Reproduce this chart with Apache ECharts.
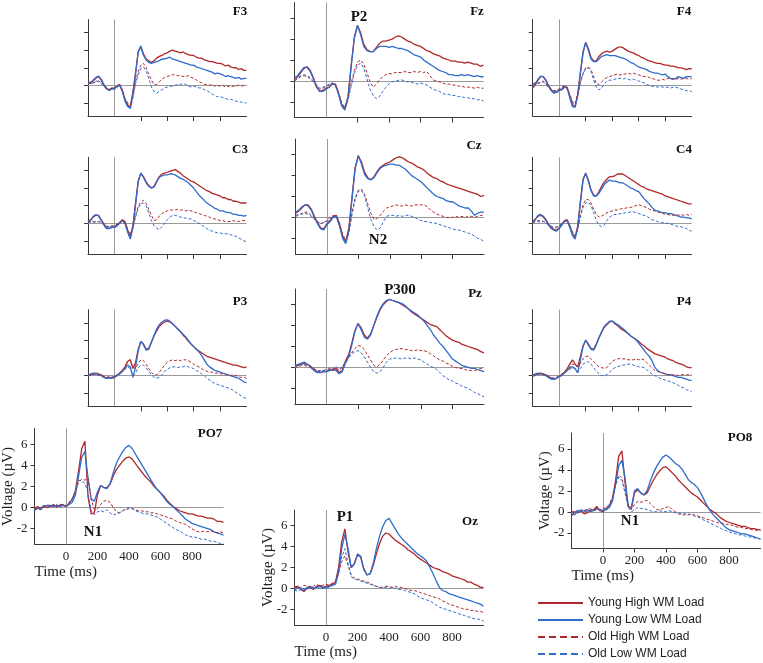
<!DOCTYPE html>
<html><head><meta charset="utf-8">
<script src="https://cdn.jsdelivr.net/npm/echarts@6/dist/echarts.min.js"></script>
<style>html,body{margin:0;padding:0;background:#fff}#c{width:763px;height:663px}</style>
</head><body><div id="c"></div>
<script>
const timeMs = [-200,-180,-160,-140,-120,-100,-80,-60,-40,-20,
0,20,40,60,80,100,120,140,160,180,
200,220,240,260,280,300,320,340,360,380,
400,420,440,460,480,500,520,540,560,580,
600,620,640,660,680,700,720,740,760,780,
800,820,840,860,880,900,920,940,960,980,1000];
const seriesNames = ['Young High WM Load','Young Low WM Load','Old High WM Load','Old Low WM Load'];
const yTickValues = [-2,0,2,4,6];
const xTickValues = [200,400,600,800];
const xLabelValues = [0,200,400,600,800];

// F3
const f3YH=[0.3,0.2,0.5,0.8,1.0,0.6,0.0,-0.4,-0.5,-0.3,-0.4,-0.1,0.1,-0.6,-1.6,-2.2,-2.5,-0.8,1.4,3.8,4.4,3.6,3.0,2.8,2.6,2.8,3.1,3.3,3.4,3.6,3.7,3.9,4.0,3.9,3.8,3.7,3.8,3.6,3.5,3.4,3.4,3.2,3.1,3.1,2.9,2.8,2.7,2.7,2.6,2.5,2.5,2.4,2.2,2.3,2.1,2.0,2.0,1.8,1.9,1.7,1.7];
const f3YL=[0.4,0.3,0.6,0.9,1.05,0.7,0.1,-0.3,-0.6,-0.4,-0.3,-0.2,0.0,-0.7,-1.8,-2.4,-2.6,-0.9,1.3,3.8,4.5,3.4,2.9,2.6,2.5,2.6,2.7,2.8,3.0,3.0,3.1,3.2,3.0,2.9,2.8,2.7,2.6,2.5,2.4,2.3,2.3,2.1,2.0,1.9,1.8,1.7,1.6,1.5,1.3,1.4,1.3,1.2,1.0,1.1,1.0,0.9,0.8,0.9,0.7,0.8,0.8];
const f3OH=[0.4,0.3,0.3,0.4,0.5,0.3,0.0,-0.3,-0.5,-0.4,-0.3,0.0,0.1,-0.5,-1.5,-2.0,-2.3,-1.2,0.4,1.6,2.3,2.5,2.0,1.3,0.6,0.1,0.1,0.4,0.7,0.9,1.0,1.1,1.2,1.2,1.1,1.1,1.0,1.0,1.1,0.9,0.8,0.6,0.4,0.3,0.1,0.1,0.0,0.1,-0.1,0.0,-0.1,0.0,-0.2,-0.1,-0.2,-0.1,-0.1,0.0,-0.1,0.0,0.0];
const f3OL=[0.2,0.4,0.2,0.5,0.4,0.2,-0.1,-0.4,-0.6,-0.5,-0.4,-0.1,0.0,-0.6,-1.7,-2.4,-2.7,-1.5,0.2,1.2,1.9,2.1,1.6,0.8,-0.2,-0.7,-0.9,-0.7,-0.5,-0.3,-0.2,-0.1,-0.1,0.0,0.1,0.1,0.2,0.1,-0.1,-0.2,-0.1,-0.2,-0.3,-0.3,-0.5,-0.6,-0.8,-1.0,-1.2,-1.3,-1.3,-1.4,-1.5,-1.6,-1.6,-1.7,-1.8,-1.9,-1.9,-2.0,-2.0];
// Fz
const fzYH=[0.2,0.4,0.8,1.2,1.35,1.0,0.3,-0.6,-1.0,-0.9,-0.7,-0.6,-0.3,-0.3,-1.2,-2.3,-2.7,-1.5,1.5,4.2,5.3,4.6,3.5,3.0,2.8,2.8,3.2,3.6,3.8,3.8,3.9,4.0,4.2,4.3,4.2,4.0,3.8,3.7,3.5,3.4,3.3,3.1,2.9,2.8,2.6,2.5,2.4,2.2,2.1,2.0,1.9,1.9,1.8,1.8,1.7,1.8,1.7,1.6,1.6,1.4,1.5];
const fzYL=[0.3,0.5,0.9,1.3,1.3,0.9,0.2,-0.5,-1.0,-1.0,-0.8,-0.6,-0.2,-0.4,-1.3,-2.4,-2.8,-1.6,1.4,4.1,5.3,4.4,3.3,2.9,2.8,2.8,3.1,3.3,3.3,3.3,3.2,3.3,3.2,3.1,3.1,3.0,2.9,2.7,2.5,2.4,2.3,2.0,1.8,1.6,1.4,1.2,1.0,0.9,0.8,0.6,0.6,0.5,0.5,0.6,0.5,0.6,0.5,0.4,0.5,0.4,0.4];
const fzOH=[0.0,0.2,0.4,0.5,0.4,0.2,-0.1,-0.5,-0.8,-0.7,-0.5,-0.4,-0.3,-0.4,-1.1,-2.1,-2.5,-1.6,-0.2,1.0,1.8,2.0,1.6,0.8,-0.1,-0.6,-0.3,0.1,0.4,0.6,0.7,0.7,0.8,0.8,0.8,0.9,0.8,0.8,0.9,0.8,0.9,0.8,0.9,0.5,0.1,0.0,-0.1,-0.2,-0.3,-0.3,-0.4,-0.4,-0.5,-0.5,-0.6,-0.6,-0.6,-0.7,-0.6,-0.7,-0.7];
const fzOL=[0.1,0.3,0.5,0.6,0.5,0.3,0.0,-0.4,-0.7,-0.6,-0.5,-0.3,-0.2,-0.5,-1.2,-2.2,-2.6,-1.8,-0.5,0.7,1.5,1.7,1.2,0.2,-0.8,-1.4,-1.7,-1.5,-1.0,-0.6,-0.3,-0.1,0.0,0.05,0.1,0.0,-0.1,-0.1,-0.2,-0.3,-0.2,-0.3,-0.4,-0.6,-0.8,-0.9,-1.0,-1.2,-1.3,-1.3,-1.4,-1.4,-1.5,-1.5,-1.6,-1.6,-1.7,-1.7,-1.8,-1.8,-1.9];
// F4
const f4YH=[-0.3,0.1,0.6,1.0,1.0,0.6,0.0,-0.5,-0.8,-0.8,-0.5,-0.5,-0.2,-0.2,-1.2,-2.2,-2.4,-1.0,1.5,3.8,4.9,4.2,3.2,2.8,2.8,3.3,3.6,3.8,3.9,3.8,3.9,4.1,4.3,4.4,4.3,4.1,3.9,3.8,3.7,3.5,3.4,3.2,3.1,2.9,2.8,2.7,2.6,2.5,2.5,2.4,2.3,2.3,2.2,2.2,2.1,2.0,2.0,1.9,1.8,1.9,1.9];
const f4YL=[-0.2,0.2,0.7,1.05,1.0,0.5,-0.1,-0.6,-0.9,-0.7,-0.6,-0.4,-0.1,-0.3,-1.4,-2.4,-2.5,-1.1,1.4,3.7,4.9,4.0,3.0,2.7,2.7,3.0,3.3,3.4,3.5,3.4,3.4,3.4,3.3,3.2,3.1,3.0,2.8,2.6,2.5,2.3,2.1,2.0,1.9,1.8,1.6,1.5,1.4,1.4,1.3,1.2,1.3,1.0,0.8,0.7,0.8,1.0,0.9,0.8,1.0,1.0,1.0];
const f4OH=[0.2,0.3,0.2,0.4,0.5,0.2,-0.2,-0.4,-0.6,-0.5,-0.4,-0.2,0.0,-0.3,-1.0,-1.8,-2.1,-1.0,0.4,1.4,2.0,2.1,1.8,1.0,0.2,0.1,0.4,0.7,0.9,1.0,1.1,1.2,1.3,1.2,1.3,1.3,1.4,1.3,1.4,1.3,1.2,1.1,1.0,1.0,0.9,0.8,0.7,0.6,0.6,0.7,0.6,0.8,0.7,0.8,0.7,0.8,0.7,0.8,0.8,0.7,0.8];
const f4OL=[0.1,0.2,0.3,0.3,0.4,0.1,-0.3,-0.5,-0.7,-0.6,-0.5,-0.3,-0.1,-0.4,-1.2,-2.0,-2.3,-1.2,0.3,1.3,1.9,2.0,1.6,0.6,-0.2,-0.5,-0.3,0.2,0.5,0.6,0.6,0.7,0.8,0.8,0.7,0.8,0.7,0.6,0.7,0.6,0.5,0.4,0.3,0.1,0.0,-0.1,-0.1,-0.2,-0.1,-0.2,-0.2,-0.2,-0.3,-0.2,-0.2,-0.3,-0.4,-0.5,-0.6,-0.6,-0.7];
// C3
const c3YH=[0.2,0.4,0.7,0.9,0.9,0.4,-0.1,-0.5,-0.6,-0.5,-0.4,-0.2,0.1,0.4,0.2,-0.8,-1.5,-0.3,2.3,4.8,5.7,5.3,4.7,4.3,4.0,4.2,4.8,5.3,5.6,5.7,5.8,5.9,6.0,6.1,5.9,5.7,5.4,5.2,5.0,4.8,4.7,4.5,4.3,4.1,3.9,3.7,3.6,3.4,3.3,3.2,3.1,2.9,2.9,2.7,2.7,2.5,2.5,2.4,2.3,2.3,2.3];
const c3YL=[0.1,0.3,0.8,1.0,0.8,0.3,-0.2,-0.6,-0.6,-0.4,-0.5,-0.3,0.0,0.3,0.0,-1.0,-1.8,-0.5,2.1,4.7,5.7,5.2,4.6,4.2,4.0,4.1,4.7,5.2,5.4,5.5,5.5,5.6,5.6,5.5,5.3,5.1,5.0,4.8,4.6,4.3,4.0,3.6,3.2,2.9,2.6,2.3,2.1,1.9,1.7,1.6,1.4,1.4,1.3,1.2,1.2,1.0,1.0,0.9,0.9,0.8,0.9];
const c3OH=[0.2,0.1,0.1,0.2,0.2,0.1,0.0,-0.3,-0.4,-0.3,-0.3,-0.1,0.1,0.3,0.1,-0.7,-1.3,-0.5,0.9,1.9,2.4,2.6,2.3,1.6,0.9,0.3,0.4,0.8,1.1,1.3,1.4,1.5,1.5,1.5,1.6,1.5,1.5,1.4,1.5,1.4,1.3,1.2,1.1,1.0,0.9,0.8,0.7,0.5,0.5,0.4,0.3,0.3,0.2,0.2,0.2,0.3,0.2,0.2,0.3,0.3,0.3];
const c3OL=[0.0,0.2,0.2,0.1,0.2,0.0,-0.1,-0.4,-0.5,-0.3,-0.4,-0.2,0.0,0.2,-0.1,-0.9,-1.7,-0.6,0.7,1.7,2.2,2.3,2.0,1.2,0.3,-0.3,-0.6,-0.7,-0.4,0.0,0.4,0.7,0.9,0.9,0.8,0.7,0.6,0.6,0.5,0.5,0.3,0.2,0.0,-0.2,-0.4,-0.6,-0.8,-0.9,-1.0,-1.1,-1.1,-1.2,-1.2,-1.2,-1.3,-1.4,-1.5,-1.7,-1.8,-2.0,-2.1];
// Cz
const czYH=[0.4,0.6,0.9,1.2,1.2,0.8,0.1,-0.5,-1.0,-1.1,-0.6,-0.3,0.1,0.2,-0.6,-1.8,-2.3,-1.0,2.0,4.8,5.9,5.3,4.3,3.8,3.6,3.9,4.4,4.8,5.0,5.2,5.3,5.5,5.7,5.8,5.7,5.5,5.3,5.2,5.0,4.8,4.7,4.5,4.2,4.0,3.8,3.7,3.5,3.4,3.2,3.1,3.0,2.9,2.8,2.7,2.6,2.5,2.4,2.3,2.2,2.0,2.1];
const czYL=[0.5,0.7,1.0,1.2,1.1,0.7,0.0,-0.6,-1.1,-1.2,-0.7,-0.4,0.0,0.1,-0.8,-2.0,-2.5,-1.2,1.8,4.7,5.9,5.1,4.1,3.7,3.6,3.8,4.3,4.7,4.9,5.0,5.1,5.1,5.0,5.0,4.8,4.6,4.3,4.0,3.8,3.6,3.4,3.1,2.8,2.5,2.2,2.0,1.9,1.8,1.6,1.5,1.5,1.3,1.1,1.0,0.9,0.9,0.6,0.2,0.4,0.5,0.5];
const czOH=[0.1,0.2,0.4,0.5,0.5,0.2,-0.1,-0.4,-0.6,-0.5,-0.3,0.0,0.2,0.1,-0.6,-1.6,-2.2,-1.3,0.5,1.9,2.6,2.7,2.2,1.3,0.4,-0.2,-0.1,0.2,0.6,0.9,1.0,1.1,1.2,1.1,1.1,1.2,1.1,1.1,1.2,1.2,1.2,1.2,1.0,0.7,0.5,0.3,0.2,0.1,0.0,0.0,0.0,0.1,0.0,0.1,0.0,0.1,0.1,0.0,0.1,0.2,0.2];
const czOL=[0.2,0.3,0.3,0.4,0.3,0.1,-0.2,-0.4,-0.6,-0.5,-0.4,-0.1,0.1,0.0,-0.8,-1.8,-2.4,-1.5,0.3,1.7,2.5,2.6,2.0,0.9,-0.2,-0.9,-1.2,-1.0,-0.4,0.1,0.2,0.2,0.1,0.2,0.1,0.2,0.2,0.1,0.0,-0.2,-0.3,-0.4,-0.4,-0.5,-0.5,-0.6,-0.7,-0.8,-0.9,-1.0,-1.1,-1.2,-1.2,-1.3,-1.4,-1.5,-1.6,-1.8,-2.0,-2.1,-2.3];
// C4
const c4YH=[0.2,0.5,0.8,0.9,0.8,0.4,-0.1,-0.5,-0.7,-0.8,-0.5,-0.1,0.3,0.4,-0.3,-1.2,-1.6,-0.3,2.5,5.0,5.7,4.9,3.8,3.2,3.1,3.6,4.2,4.7,5.0,5.3,5.3,5.4,5.6,5.6,5.6,5.4,5.2,5.0,4.8,4.6,4.4,4.2,4.1,3.9,3.8,3.7,3.6,3.5,3.4,3.3,3.1,3.0,2.9,2.8,2.7,2.6,2.5,2.4,2.3,2.2,2.2];
const c4YL=[0.1,0.4,0.9,1.0,0.7,0.3,-0.2,-0.6,-0.8,-0.9,-0.6,-0.2,0.2,0.3,-0.5,-1.4,-1.8,-0.5,2.3,4.9,5.7,4.8,3.7,3.1,3.1,3.4,3.9,4.4,4.7,4.9,4.8,4.8,4.7,4.6,4.6,4.4,4.2,4.0,3.9,3.7,3.6,3.2,2.8,2.5,2.2,1.8,1.5,1.4,1.3,1.2,1.2,1.1,1.1,1.0,0.9,0.8,0.7,0.7,0.6,0.6,0.5];
const c4OH=[0.0,0.2,0.3,0.3,0.2,0.1,-0.1,-0.3,-0.5,-0.5,-0.3,0.0,0.2,0.3,-0.2,-1.0,-1.4,-0.6,0.9,2.1,2.7,2.7,2.3,1.6,1.0,0.7,0.8,1.0,1.2,1.3,1.4,1.5,1.5,1.6,1.7,1.7,1.8,1.8,1.9,2.0,2.1,2.0,1.9,1.8,1.6,1.5,1.4,1.3,1.2,1.1,1.0,1.0,0.9,0.9,1.0,0.9,1.0,0.9,1.0,0.9,1.0];
const c4OL=[0.3,0.1,0.2,0.1,0.2,0.0,-0.2,-0.4,-0.5,-0.4,-0.3,0.0,0.2,0.2,-0.3,-1.1,-1.5,-0.7,0.7,1.8,2.3,2.4,2.0,1.2,0.3,-0.2,-0.4,-0.2,0.3,0.7,0.9,1.0,1.0,1.1,1.1,1.2,1.2,1.3,1.3,1.2,1.1,1.0,0.9,0.8,0.6,0.4,0.3,0.2,0.1,0.1,0.0,0.0,-0.1,-0.2,-0.3,-0.4,-0.4,-0.5,-0.6,-0.8,-0.9];
// P3
const p3YH=[-0.1,0.1,0.2,0.3,0.2,0.1,-0.1,-0.3,-0.2,-0.3,-0.2,0.0,0.3,0.6,1.0,1.6,1.8,0.8,1.5,3.0,3.9,3.6,3.0,3.1,3.8,4.5,5.1,5.6,5.9,6.1,6.2,6.1,5.9,5.6,5.3,5.0,4.6,4.3,3.9,3.6,3.3,3.0,2.8,2.6,2.4,2.2,2.1,2.0,1.9,1.8,1.7,1.6,1.5,1.4,1.3,1.2,1.2,1.1,1.0,0.9,1.0];
const p3YL=[0.0,0.2,0.3,0.2,0.1,0.0,-0.2,-0.3,-0.3,-0.2,-0.1,0.0,0.2,0.5,0.8,1.2,1.0,-0.2,1.0,2.8,3.9,3.5,2.9,3.0,3.8,4.6,5.3,5.8,6.1,6.3,6.35,6.2,5.9,5.6,5.3,5.0,4.7,4.4,4.0,3.6,3.3,3.0,2.7,2.3,1.8,1.3,1.0,0.8,0.6,0.5,0.4,0.3,0.2,0.1,0.0,-0.1,-0.2,-0.3,-0.5,-0.7,-0.8];
const p3OH=[0.1,0.0,0.1,0.2,0.0,0.1,-0.1,-0.2,-0.1,-0.2,-0.1,0.1,0.3,0.6,1.0,1.6,1.8,1.0,0.8,1.4,1.8,1.7,1.3,0.8,0.4,0.1,0.1,0.4,0.8,1.2,1.5,1.7,1.8,1.7,1.8,1.7,1.8,1.8,1.7,1.5,1.3,1.1,1.0,0.8,0.6,0.5,0.4,0.4,0.3,0.3,0.2,0.2,0.1,0.1,0.0,0.1,0.0,-0.1,-0.2,-0.2,-0.3];
const p3OL=[0.0,0.1,0.2,0.1,0.1,0.0,-0.2,-0.3,-0.2,-0.2,-0.1,0.1,0.2,0.4,0.7,1.0,0.8,0.0,0.3,0.9,1.2,1.2,0.9,0.5,0.1,-0.2,-0.3,-0.2,0.1,0.5,0.7,0.9,1.0,1.0,0.9,1.0,1.0,1.1,1.0,0.9,0.8,0.6,0.4,0.2,0.0,-0.3,-0.5,-0.7,-0.9,-1.0,-1.1,-1.2,-1.3,-1.4,-1.5,-1.7,-1.9,-2.1,-2.3,-2.5,-2.6];
// Pz
const pzYH=[0.1,0.2,0.3,0.4,0.3,0.1,-0.2,-0.4,-0.5,-0.4,-0.4,-0.2,-0.3,-0.1,-0.5,-0.3,0.6,1.2,2.3,3.5,4.2,3.8,3.1,2.8,3.2,4.0,4.8,5.5,6.0,6.3,6.5,6.4,6.3,6.2,6.0,5.8,5.6,5.3,5.1,4.9,4.7,4.5,4.3,4.1,4.0,3.9,3.6,3.3,3.0,2.8,2.6,2.5,2.4,2.2,2.1,2.0,1.9,1.8,1.7,1.5,1.4];
const pzYL=[0.2,0.3,0.4,0.5,0.3,0.0,-0.3,-0.5,-0.5,-0.4,-0.4,-0.3,-0.2,-0.3,-0.6,-0.4,0.4,1.0,2.1,3.4,4.2,3.6,2.9,2.7,3.1,4.0,4.9,5.6,6.1,6.4,6.5,6.4,6.3,6.2,6.1,5.9,5.6,5.4,5.2,5.0,4.7,4.4,4.0,3.6,3.1,2.7,2.3,2.0,1.6,1.2,0.8,0.6,0.4,0.2,0.1,0.0,-0.1,-0.1,-0.2,-0.3,-0.4];
const pzOH=[0.1,0.0,0.2,0.2,0.1,0.0,-0.1,-0.3,-0.3,-0.3,-0.2,-0.1,-0.2,0.0,-0.3,0.0,0.5,0.9,1.4,1.8,2.1,2.0,1.7,1.2,0.7,0.2,0.05,0.3,0.7,1.1,1.4,1.6,1.7,1.8,1.8,1.7,1.7,1.6,1.6,1.7,1.6,1.6,1.5,1.3,1.1,0.9,0.7,0.6,0.4,0.3,0.1,0.0,-0.1,-0.1,-0.2,-0.3,-0.3,-0.3,-0.2,-0.1,-0.1];
const pzOL=[0.0,0.2,0.3,0.3,0.2,0.0,-0.2,-0.4,-0.4,-0.3,-0.3,-0.2,-0.1,0.1,-0.2,0.1,0.5,0.9,1.3,1.5,1.6,1.4,1.0,0.5,0.0,-0.4,-0.55,-0.4,0.0,0.5,0.8,0.85,0.9,0.85,0.8,0.9,0.9,0.8,0.9,0.8,0.7,0.5,0.3,0.1,0.0,-0.2,-0.5,-0.8,-1.0,-1.2,-1.3,-1.5,-1.6,-1.8,-1.9,-2.0,-2.2,-2.4,-2.5,-2.7,-2.8];
// P4
const p4YH=[-0.1,0.1,0.2,0.3,0.2,0.1,-0.1,-0.3,-0.4,-0.3,-0.1,0.1,0.4,0.8,1.3,1.8,1.3,1.0,2.2,3.4,4.0,3.6,3.1,3.0,3.6,4.3,4.9,5.5,5.8,6.1,6.2,5.9,5.7,5.4,5.2,5.0,4.8,4.5,4.3,4.1,3.9,3.6,3.4,3.1,2.9,2.7,2.5,2.4,2.3,2.2,2.1,1.9,1.8,1.7,1.5,1.4,1.3,1.2,1.0,0.9,0.9];
const p4YL=[0.0,0.2,0.3,0.2,0.1,0.0,-0.2,-0.4,-0.4,-0.3,-0.1,0.0,0.3,0.6,0.9,1.0,0.8,0.3,1.8,3.3,4.05,3.5,3.0,2.9,3.5,4.3,5.0,5.6,5.9,6.2,6.2,6.0,5.8,5.6,5.35,5.1,4.8,4.5,4.3,4.1,3.7,3.3,2.9,2.5,2.2,1.7,1.0,0.6,0.4,0.3,0.2,0.1,0.1,0.0,-0.1,-0.2,-0.2,-0.3,-0.4,-0.5,-0.55];
const p4OH=[0.1,0.0,0.2,0.2,0.1,0.0,-0.1,-0.2,-0.3,-0.2,0.0,0.2,0.4,0.7,1.0,1.3,1.2,1.0,1.4,1.9,2.2,2.2,1.9,1.6,1.3,1.0,0.9,0.85,0.9,1.3,1.6,1.8,1.9,1.95,1.9,1.9,1.8,1.8,1.8,1.9,1.8,1.9,1.8,1.5,1.2,0.9,0.6,0.5,0.4,0.3,0.2,0.1,0.1,0.1,0.1,0.0,0.1,0.1,0.1,0.1,0.1];
const p4OL=[0.0,0.1,0.2,0.1,0.1,-0.1,-0.2,-0.3,-0.3,-0.2,-0.1,0.1,0.3,0.5,0.7,0.9,0.8,0.4,0.8,1.3,1.5,1.6,1.3,0.9,0.5,0.2,0.0,0.0,0.1,0.4,0.7,0.9,1.0,1.1,1.2,1.2,1.3,1.3,1.2,1.1,1.0,1.0,0.9,0.7,0.4,0.2,0.0,-0.1,-0.3,-0.4,-0.5,-0.6,-0.7,-0.8,-1.0,-1.1,-1.3,-1.4,-1.6,-1.7,-1.8];
// PO7
const po7YH=[-0.1,0.1,-0.2,0.2,0.0,0.1,0.3,0.1,0.2,0.3,0.1,0.4,0.8,1.6,3.5,5.6,6.3,1.0,-0.6,-0.5,1.2,2.1,1.9,1.9,2.2,3.0,3.6,4.0,4.4,4.7,4.8,4.6,4.2,3.8,3.4,3.0,2.7,2.4,2.0,1.7,1.4,1.1,0.7,0.4,0.1,-0.1,-0.3,-0.4,-0.5,-0.6,-0.6,-0.7,-0.8,-0.8,-0.9,-1.0,-1.0,-1.1,-1.3,-1.3,-1.4];
const po7YL=[-0.2,-0.1,0.0,0.1,0.2,0.2,0.1,0.2,0.1,0.2,0.1,0.3,0.5,1.2,3.0,4.8,5.3,2.8,0.8,0.6,1.5,2.1,1.9,1.8,2.3,3.3,4.2,4.8,5.3,5.7,5.9,5.6,5.1,4.6,4.1,3.6,3.1,2.6,2.1,1.7,1.4,1.0,0.6,0.3,0.1,-0.2,-0.5,-0.8,-1.1,-1.3,-1.5,-1.6,-1.7,-1.8,-1.9,-2.0,-2.1,-2.3,-2.4,-2.5,-2.6];
const po7OH=[0.0,-0.2,0.1,0.0,0.2,0.1,0.2,0.0,0.3,0.2,0.2,0.5,0.9,1.5,2.4,2.7,2.6,2.8,0.8,-0.2,-0.1,0.3,0.6,0.7,0.5,0.0,-0.4,-0.5,-0.3,-0.2,-0.1,-0.1,-0.2,-0.3,-0.3,-0.4,-0.4,-0.5,-0.5,-0.6,-0.7,-0.8,-0.9,-1.0,-1.1,-1.3,-1.4,-1.5,-1.6,-1.8,-2.0,-2.2,-2.3,-2.3,-2.2,-2.3,-2.2,-2.3,-2.4,-2.3,-2.4];
const po7OL=[-0.3,-0.1,-0.2,0.1,0.0,0.2,0.1,0.3,0.1,0.2,0.1,0.4,0.8,1.6,2.6,2.5,2.3,1.4,-0.3,-0.7,-0.4,-0.3,-0.4,-0.2,-0.5,-0.7,-0.6,-0.5,-0.3,-0.1,0.0,-0.1,-0.3,-0.4,-0.5,-0.6,-0.6,-0.7,-0.8,-0.9,-1.1,-1.3,-1.5,-1.7,-1.9,-2.1,-2.2,-2.4,-2.6,-2.7,-2.8,-2.8,-2.9,-3.0,-3.0,-3.1,-3.2,-3.2,-3.3,-3.4,-3.4];
// Oz
const ozYH=[0.1,0.2,-0.1,-0.3,0.0,0.1,-0.1,0.2,0.3,0.1,0.2,0.3,0.4,0.6,2.0,4.5,5.7,3.5,2.0,2.4,3.2,3.0,1.8,1.3,1.4,2.2,3.3,4.3,5.0,5.3,5.2,4.9,4.6,4.4,4.2,4.0,3.7,3.5,3.3,3.0,2.8,2.6,2.4,2.2,2.0,1.9,1.8,1.6,1.5,1.4,1.2,1.1,1.0,0.9,0.8,0.6,0.6,0.4,0.3,0.1,0.1];
const ozYL=[-0.2,0.1,0.0,-0.2,0.1,0.2,0.0,0.1,0.2,0.0,0.1,0.2,0.3,0.4,1.5,3.8,5.2,3.8,2.0,2.3,3.3,3.1,1.9,1.3,1.4,2.4,3.8,5.0,5.9,6.5,6.7,6.2,5.7,5.2,4.8,4.5,4.2,3.9,3.6,3.3,3.1,2.9,2.6,2.0,1.4,0.7,0.1,-0.2,-0.3,-0.5,-0.6,-0.7,-0.8,-0.9,-1.0,-1.1,-1.2,-1.3,-1.4,-1.5,-1.7];
const ozOH=[0.2,0.0,0.1,0.3,0.2,0.1,0.2,0.4,0.2,0.3,0.4,0.3,0.5,0.7,1.5,2.6,3.1,2.2,1.3,1.0,0.9,0.8,0.7,0.6,0.5,0.3,0.2,0.1,0.1,0.2,0.2,0.1,0.2,0.1,0.1,0.0,-0.1,-0.2,-0.2,-0.3,-0.4,-0.5,-0.6,-0.7,-0.8,-0.9,-1.0,-1.2,-1.3,-1.5,-1.6,-1.7,-1.8,-1.9,-2.0,-2.0,-2.1,-2.1,-2.2,-2.2,-2.3];
const ozOL=[-0.1,-0.3,-0.1,0.0,-0.1,0.1,0.0,0.1,0.0,0.1,0.0,0.1,0.3,0.5,1.6,3.0,3.8,2.4,1.1,0.9,0.8,0.7,0.6,0.5,0.4,0.3,0.2,0.1,0.1,0.1,0.0,0.1,0.0,-0.1,-0.1,-0.2,-0.3,-0.4,-0.5,-0.7,-0.9,-1.0,-1.1,-1.2,-1.4,-1.6,-1.8,-1.9,-2.0,-2.1,-2.2,-2.3,-2.4,-2.5,-2.6,-2.7,-2.8,-2.9,-2.9,-3.0,-3.1];
// PO8
const po8YH=[-0.4,0.0,-0.1,0.1,-0.2,-0.1,0.1,0.2,0.5,0.1,0.0,0.3,0.6,1.2,3.0,5.3,5.8,2.8,0.5,0.3,1.8,2.1,1.8,1.6,1.8,2.4,3.0,3.5,3.9,4.2,4.3,4.0,3.7,3.4,3.0,2.7,2.4,2.1,1.8,1.6,1.4,1.1,0.8,0.5,0.2,0.0,-0.2,-0.5,-0.7,-0.9,-1.0,-1.1,-1.2,-1.3,-1.4,-1.4,-1.5,-1.6,-1.6,-1.7,-1.7];
const po8YL=[-0.2,-0.3,0.1,0.0,0.1,0.2,0.0,0.1,0.3,0.2,0.1,0.2,0.4,1.0,2.6,4.4,4.9,3.2,0.5,0.4,2.0,2.2,1.8,1.6,2.0,2.9,3.7,4.3,4.8,5.2,5.4,5.2,4.9,4.6,4.4,4.1,3.6,3.1,2.8,2.6,2.3,1.8,1.2,0.6,0.1,-0.3,-0.6,-0.9,-1.2,-1.5,-1.7,-1.8,-1.9,-2.0,-2.1,-2.1,-2.2,-2.3,-2.4,-2.5,-2.6];
const po8OH=[0.1,-0.1,0.2,0.1,0.0,0.2,0.3,0.2,0.3,0.2,0.3,0.4,0.7,1.4,2.8,3.5,3.2,2.0,0.6,0.2,0.7,1.0,0.9,1.0,1.1,0.8,0.5,0.2,0.2,0.3,0.4,0.5,0.2,0.0,-0.2,-0.3,-0.3,-0.3,-0.2,-0.3,-0.4,-0.5,-0.6,-0.7,-0.8,-0.9,-1.0,-1.1,-1.1,-1.2,-1.2,-1.3,-1.4,-1.5,-1.5,-1.6,-1.6,-1.7,-1.7,-1.8,-1.8];
const po8OL=[-0.1,0.1,0.0,0.2,0.1,0.0,0.2,0.1,0.2,0.1,0.2,0.3,0.6,1.2,2.5,3.3,3.0,1.8,0.4,0.0,0.2,0.4,0.3,0.3,0.2,0.1,0.0,0.0,0.1,0.0,0.0,0.1,0.0,-0.1,-0.1,-0.2,-0.2,-0.2,-0.3,-0.4,-0.5,-0.6,-0.8,-0.9,-1.1,-1.2,-1.4,-1.5,-1.7,-1.8,-1.9,-2.0,-2.1,-2.2,-2.2,-2.3,-2.4,-2.4,-2.5,-2.5,-2.6];

// layout (positions only)
const panels = [
  {label:'F3', lines:[f3YH,f3YL,f3OH,f3OL], box:[88,19.5,158.5,96.5], labelAt:[240,12]},
  {label:'Fz', lines:[fzYH,fzYL,fzOH,fzOL], box:[294.5,2.5,189,115], labelAt:[477,12]},
  {label:'F4', lines:[f4YH,f4YL,f4OH,f4OL], box:[532.7,19.5,159,96.7], labelAt:[684,12]},
  {label:'C3', lines:[c3YH,c3YL,c3OH,c3OL], box:[88,157.3,158.5,96.7], labelAt:[240,150]},
  {label:'Cz', lines:[czYH,czYL,czOH,czOL], box:[295.5,139,188.5,115], labelAt:[474,146]},
  {label:'C4', lines:[c4YH,c4YL,c4OH,c4OL], box:[532.7,157.3,159,96.7], labelAt:[684,150]},
  {label:'P3', lines:[p3YH,p3YL,p3OH,p3OL], box:[88,309.7,158.5,96.7], labelAt:[240,302]},
  {label:'Pz', lines:[pzYH,pzYL,pzOH,pzOL], box:[295,289,189,115], labelAt:[475,294]},
  {label:'P4', lines:[p4YH,p4YL,p4OH,p4OL], box:[532.7,309.7,159,96.7], labelAt:[684,302]},
  {label:'PO7', lines:[po7YH,po7YL,po7OH,po7OL], box:[34.5,428.5,189,116], labelAt:[210,434], full:true, xTicks:false},
  {label:'Oz', lines:[ozYH,ozYL,ozOH,ozOL], box:[294.5,510,189,115], labelAt:[470,522], full:true, xTicks:false},
  {label:'PO8', lines:[po8YH,po8YL,po8OH,po8OL], box:[571.5,433,189,115.5], labelAt:[740,438], full:true, xTicks:true}
];
const annotations = [
  {text:'P2', at:[359,17]}, {text:'N2', at:[378,240]}, {text:'P300', at:[400,290]},
  {text:'N1', at:[93,532]}, {text:'P1', at:[345,517]}, {text:'N1', at:[630,521]}
];

const SERIF = '"Liberation Serif","Times New Roman",serif';
const AX = '#3a3a3a', ZERO = '#9a9a9a';
const RED = '#B0282B', BLUE = '#2F6CCB';
const lineStyles = [
  {color:RED, type:'solid', width:1.3},
  {color:BLUE, type:'solid', width:1.3},
  {color:RED, type:[3,2], width:1},
  {color:BLUE, type:[3,2], width:1}
];
const SOLID_ICON = 'path://M0,0H45V2H0Z';
const DASH_ICON = 'path://M0,0H7V2H0Z M11,0H18V2H11Z M22,0H29V2H22Z M33,0H40V2H33Z M44,0H45V2H44Z';
const legendIcons = [SOLID_ICON, SOLID_ICON, DASH_ICON, DASH_ICON];

const grid=[], xAxis=[], yAxis=[], series=[], graphic=[];
panels.forEach((p,i)=>{
  grid.push({left:p.box[0], top:p.box[1], width:p.box[2], height:p.box[3], containLabel:false, outerBoundsMode:'none'});
  xAxis.push({
    type:'value', gridIndex:i, min:-200, max:1000,
    axisLine:{show:true, onZero:false, lineStyle:{color:AX, width:1}},
    splitLine:{show:false},
    axisTick: p.full ? {show:!!p.xTicks, customValues:xLabelValues, length:4, lineStyle:{color:AX}}
                     : {show:true, customValues:xTickValues, length:5, lineStyle:{color:AX}},
    axisLabel: p.full ? {show:true, customValues:xLabelValues, fontFamily:SERIF, fontSize:13, color:'#222', margin:6}
                      : {show:false},
    name: p.full ? 'Time (ms)' : '',
    nameLocation:'start', nameGap:0, nameMoveOverlap:false,
    nameTextStyle:{fontFamily:SERIF, fontSize:15, color:'#222', align:'left', verticalAlign:'top', padding:[20,0,0,0]}
  });
  yAxis.push({
    type:'value', gridIndex:i, min:-3.5, max:7.5,
    axisLine:{show:true, onZero:false, lineStyle:{color:AX, width:1}},
    splitLine:{show:false},
    axisTick:{show:true, customValues:yTickValues, length:4, lineStyle:{color:AX}},
    axisLabel: p.full ? {show:true, customValues:yTickValues, fontFamily:SERIF, fontSize:13, color:'#222', margin:7}
                      : {show:false},
    name: p.full ? 'Voltage (\u00b5V)' : '',
    nameLocation:'middle', nameGap:19, nameMoveOverlap:false,
    nameTextStyle:{fontFamily:SERIF, fontSize:15, color:'#222'}
  });
  p.lines.forEach((vals,k)=>{
    const s = {
      name:seriesNames[k], type:'line', xAxisIndex:i, yAxisIndex:i,
      data: timeMs.map((t,j)=>[t, vals[j]]),
      symbol:'none', showSymbol:false, lineStyle:lineStyles[k], itemStyle:{color:lineStyles[k].color},
      animation:false, silent:true, z:3+k
    };
    if (k===0) {
      s.markLine = {silent:true, symbol:'none', animation:false, label:{show:false},
        lineStyle:{color:ZERO, type:'solid', width:1}, z:1,
        data:[{yAxis:0},{xAxis:0}]};
    }
    series.push(s);
  });
  graphic.push({type:'text', x:p.labelAt[0], y:p.labelAt[1], z:10,
    style:{text:p.label, font:'bold 13px '+SERIF, fill:'#111', align:'center', verticalAlign:'middle', textAlign:'center', textVerticalAlign:'middle'}});
});
annotations.forEach(a=>{
  graphic.push({type:'text', x:a.at[0], y:a.at[1], z:10,
    style:{text:a.text, font:'bold 15px '+SERIF, fill:'#111', align:'center', verticalAlign:'middle', textAlign:'center', textVerticalAlign:'middle'}});
});

const chart = echarts.init(document.getElementById('c'), null, {renderer:'canvas'});
chart.setOption({
  animation:false,
  backgroundColor:'#fff',
  grid, xAxis, yAxis, series, graphic,
  legend:{
    data: seriesNames.map((n,k)=>({name:n, icon:legendIcons[k]})),
    orient:'vertical', left:538, top:594.5, padding:0,
    itemWidth:45, itemHeight:2, itemGap:0,
    selectedMode:false,
    textStyle:{fontFamily:'"Liberation Sans",Arial,sans-serif', fontSize:12, color:'#222', lineHeight:17}
  }
});
</script></body></html>
